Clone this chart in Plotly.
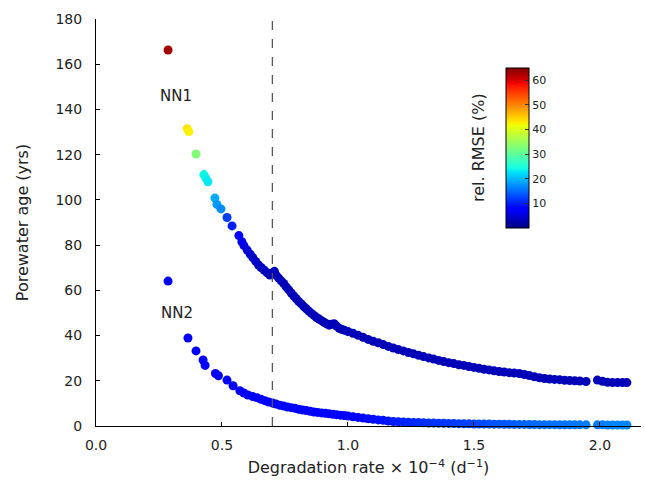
import numpy as np
import plotly.graph_objects as go

# ---- NN1: porewater age vs degradation rate, with relative RMSE (%) ----
nn1_rate = [0.286, 0.362, 0.368, 0.397, 0.428, 0.436, 0.444, 0.472, 0.480, 0.496, 0.520, 0.540, 0.567, 0.579, 0.587,
            0.600, 0.612, 0.622, 0.634, 0.645, 0.655, 0.667, 0.679, 0.690, 0.700, 0.708, 0.715, 0.725, 0.735, 0.745,
            0.755, 0.765, 0.775, 0.785, 0.795, 0.805, 0.815, 0.825, 0.835, 0.845, 0.855, 0.865, 0.875, 0.885, 0.895,
            0.905, 0.915, 0.925, 0.935, 0.945, 0.955, 0.965, 0.975, 0.985, 1.000,
            1.02, 1.04, 1.06, 1.08, 1.10, 1.12, 1.14, 1.16, 1.18, 1.20, 1.22, 1.24, 1.26, 1.28, 1.30, 1.32, 1.34, 1.36, 1.38, 1.40,
            1.42, 1.44, 1.46, 1.48, 1.50, 1.52, 1.54, 1.56, 1.58, 1.60, 1.62, 1.64, 1.66, 1.68, 1.70, 1.72, 1.74, 1.76, 1.78, 1.80,
            1.82, 1.84, 1.86, 1.88, 1.90, 1.92, 1.945, 1.990, 2.010, 2.030, 2.050, 2.070, 2.090, 2.107]
nn1_age = [166.3, 131.5, 130.2, 120.3, 111.2, 109.6, 108.0, 100.8, 98.0, 96.0, 92.2, 88.5, 84.2, 81.5, 79.8,
           77.8, 76.0, 74.5, 72.8, 71.2, 70.1, 69.0, 67.8, 66.8, 67.6, 68.4, 66.6, 65.4, 64.2, 63.0,
           61.5, 60.2, 58.8, 57.5, 56.3, 55.0, 54.0, 52.8, 51.8, 50.8, 49.8, 48.9, 48.0, 47.3, 46.6,
           45.9, 45.2, 44.6, 45.0, 45.2, 44.2, 43.2, 42.8, 42.4, 41.8,
           41.0, 40.1, 39.2, 38.3, 37.5, 36.8, 36.0, 35.2, 34.5, 33.8, 33.2, 32.5, 31.9, 31.3, 30.7, 30.1, 29.6, 29.0, 28.5, 28.0,
           27.6, 27.1, 26.8, 26.3, 25.9, 25.5, 25.1, 24.8, 24.4, 24.1, 23.9, 23.6, 23.4, 23.2, 22.8, 22.3, 21.8, 21.3, 21.0, 20.8,
           20.6, 20.5, 20.2, 20.1, 20.0, 19.9, 19.7, 20.3, 19.8, 19.3, 19.2, 19.2, 19.2, 19.2]
nn1_rmse = [63.0, 43.5, 42.5, 33.0, 24.0, 23.5, 23.0, 19.0, 18.0, 17.0, 12.0, 10.0, 7.5, 6.5, 6.0,
            5.0, 4.5, 4.2, 4.0, 3.8, 3.6, 3.5, 3.4, 3.3, 3.3, 3.3, 3.3, 3.2, 3.2, 3.2,
            3.2, 3.2, 3.2, 3.2, 3.2, 3.2, 3.2, 3.2, 3.2, 3.2, 3.2, 3.2, 3.2, 3.2, 3.2,
            3.2, 3.2, 3.2, 3.2, 3.2, 3.2, 3.2, 3.2, 3.2, 3.2,
            3.2, 3.2, 3.2, 3.2, 3.2, 3.2, 3.2, 3.2, 3.2, 3.2, 3.2, 3.2, 3.2, 3.2, 3.2, 3.2, 3.2, 3.2, 3.2, 3.2,
            3.2, 3.2, 3.2, 3.2, 3.2, 3.2, 3.2, 3.2, 3.2, 3.2, 3.2, 3.2, 3.2, 3.2, 3.2, 3.2, 3.2, 3.2, 3.2, 3.2,
            3.2, 3.2, 3.2, 3.2, 3.2, 3.2, 3.2, 3.2, 3.2, 3.2, 3.2, 3.2, 3.2, 3.2]

# ---- NN2 ----
nn2_rate = [0.286, 0.365, 0.397, 0.425, 0.433, 0.474, 0.486, 0.520, 0.544, 0.571, 0.587, 0.603, 0.622, 0.639, 0.655,
            0.670, 0.685, 0.700, 0.715, 0.730, 0.745, 0.760, 0.775, 0.790, 0.805, 0.820, 0.835, 0.850, 0.865, 0.880,
            0.895, 0.910, 0.925, 0.940, 0.955, 0.970, 0.985, 1.000,
            1.02, 1.04, 1.06, 1.08, 1.10, 1.12, 1.14, 1.16, 1.18, 1.20, 1.22, 1.24, 1.26, 1.28, 1.30, 1.32, 1.34, 1.36, 1.38, 1.40,
            1.42, 1.44, 1.46, 1.48, 1.50, 1.52, 1.54, 1.56, 1.58, 1.60, 1.62, 1.64, 1.66, 1.68, 1.70, 1.72, 1.74, 1.76, 1.78, 1.80,
            1.82, 1.84, 1.86, 1.88, 1.90, 1.92, 1.945, 1.990, 2.010, 2.030, 2.050, 2.070, 2.090, 2.107]
nn2_age = [64.1, 38.9, 33.2, 29.2, 26.8, 23.2, 22.2, 20.3, 17.8, 15.6, 14.6, 13.7, 13.0, 12.5, 11.8,
           11.2, 10.6, 10.2, 9.7, 9.2, 8.8, 8.4, 8.1, 7.8, 7.4, 7.1, 6.8, 6.5, 6.2, 6.0,
           5.8, 5.6, 5.4, 5.2, 5.0, 4.8, 4.6, 4.4,
           4.1, 3.8, 3.5, 3.2, 3.0, 2.7, 2.5, 2.2, 2.0, 1.9, 1.8, 1.7, 1.6, 1.5, 1.4, 1.35, 1.3, 1.25, 1.2, 1.15,
           1.1, 1.05, 1.0, 0.95, 0.9, 0.9, 0.85, 0.85, 0.8, 0.8, 0.75, 0.75, 0.7, 0.7, 0.7, 0.65, 0.65, 0.6, 0.6, 0.6,
           0.6, 0.55, 0.55, 0.55, 0.55, 0.5, 0.5, 0.5, 0.5, 0.45, 0.45, 0.45, 0.45, 0.45]
nn2_rmse = [7.0, 7.0, 7.0, 7.0, 7.0, 7.0, 7.0, 7.0, 7.0, 7.0, 7.0, 7.0, 7.0, 7.0, 7.1,
            7.2, 7.2, 7.3, 7.3, 7.3, 7.4, 7.4, 7.4, 7.5, 7.5, 7.5, 7.6, 7.6, 7.6, 7.6,
            7.7, 7.8, 7.8, 7.9, 7.9, 8.0, 8.0, 8.1,
            8.2, 8.3, 8.4, 8.6, 8.8, 9.0, 9.2, 9.4, 9.7, 10.0, 10.2, 10.4, 10.6, 10.8, 11.0, 11.2, 11.3, 11.4, 11.5, 11.6,
            11.8, 12.0, 12.2, 12.4, 12.5, 12.7, 12.9, 13.1, 13.3, 13.5, 13.7, 13.9, 14.0, 14.2, 14.4, 14.6, 14.8, 14.9, 15.0, 15.2,
            15.3, 15.4, 15.5, 15.6, 15.7, 15.8, 15.9, 16.1, 16.2, 16.3, 16.4, 16.5, 16.6, 16.7]

curve_labels = ["NN1", "NN2"]
label_rate = [0.317, 0.321]
label_age = [146.0, 50.0]

rmse_ticks = [10, 20, 30, 40, 50, 60]
rmse_min, rmse_max = 0.0, 65.0
threshold_rate = 0.7

x_ticks = [0.0, 0.5, 1.0, 1.5, 2.0]
y_ticks = [0, 20, 40, 60, 80, 100, 120, 140, 160, 180]

# classic "jet" colormap built from its piecewise-linear channel definitions
_seg = {
    "r": [(0, 0), (0.35, 0), (0.66, 1), (0.89, 1), (1, 0.5)],
    "g": [(0, 0), (0.125, 0), (0.375, 1), (0.64, 1), (0.91, 0), (1, 0)],
    "b": [(0, 0.5), (0.11, 1), (0.34, 1), (0.65, 0), (1, 0)],
}
_stops = sorted({p for ch in _seg.values() for p, _ in ch})


def _chan(ch, t):
    xs, vs = zip(*_seg[ch])
    return float(np.interp(t, xs, vs))


jet = [[t, "rgb(%d,%d,%d)" % tuple(round(255 * _chan(c, t)) for c in "rgb")] for t in _stops]

FONT = "DejaVu Sans"
TXT = "#222"

fig = go.Figure()

marker_common = dict(
    size=9,
    colorscale=jet,
    cmin=rmse_min,
    cmax=rmse_max,
    line=dict(width=0),
)

fig.add_trace(go.Scatter(
    x=nn2_rate, y=nn2_age, mode="markers", cliponaxis=False, showlegend=False,
    marker=dict(color=nn2_rmse, showscale=False, **marker_common),
))
fig.add_trace(go.Scatter(
    x=nn1_rate, y=nn1_age, mode="markers", cliponaxis=False, showlegend=False,
    marker=dict(
        color=nn1_rmse, showscale=True,
        colorbar=dict(
            x=0.752, xanchor="left", xpad=0,
            y=0.683, yanchor="middle", ypad=0,
            len=160, lenmode="pixels",
            thickness=23, thicknessmode="pixels",
            outlinewidth=1, outlinecolor="black",
            tickvals=rmse_ticks, ticks="inside", ticklen=4, tickcolor="#333",
            tickfont=dict(family=FONT, size=11, color=TXT),
        ),
        **marker_common,
    ),
))

# dashed reference line at the chosen degradation rate
fig.add_shape(type="line", xref="x", yref="paper", x0=threshold_rate, x1=threshold_rate, y0=0, y1=1,
              line=dict(color="#555", width=1.3, dash="dash"))

for txt, xr, ya in zip(curve_labels, label_rate, label_age):
    fig.add_annotation(x=xr, y=ya, text=txt, showarrow=False,
                       font=dict(family=FONT, size=15, color=TXT))

fig.add_annotation(xref="paper", yref="paper", x=(478 - 96) / 545, y=(426 - 148) / 407,
                   xanchor="center", yanchor="middle",
                   text="rel. RMSE (%)", textangle=-90, showarrow=False,
                   font=dict(family=FONT, size=16, color=TXT))

axis_common = dict(
    showline=True, linecolor="black", linewidth=1, mirror=False,
    ticks="inside", ticklen=4, tickwidth=1, tickcolor="black",
    showgrid=False, zeroline=False,
    tickfont=dict(family=FONT, size=14, color=TXT),
)

fig.update_xaxes(range=[0, 2.163], tickvals=x_ticks, ticktext=["%.1f" % v for v in x_ticks],
                 ticklabelstandoff=6,
                 title=dict(text="Degradation rate × 10<sup>−4</sup> (d<sup>−1</sup>)",
                            font=dict(family=FONT, size=16, color=TXT), standoff=10),
                 **axis_common)
fig.update_yaxes(range=[0, 180], tickvals=y_ticks, ticklabelstandoff=10,
                 title=dict(text="Porewater age (yrs)", font=dict(family=FONT, size=16, color=TXT),
                            standoff=22),
                 **axis_common)

fig.update_layout(
    width=645, height=483,
    margin=dict(l=96, r=4, t=19, b=57, autoexpand=False),
    plot_bgcolor="white", paper_bgcolor="white",
    font=dict(family=FONT),
)

fig.write_html("out.html")
